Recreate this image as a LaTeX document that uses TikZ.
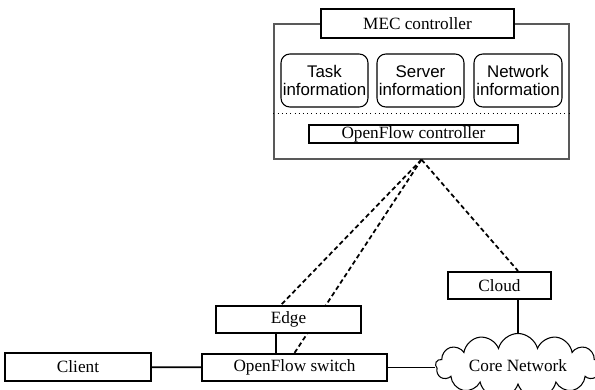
\documentclass[tikz,border=0pt]{standalone}
\usepackage{fontspec}
\setmainfont{Liberation Serif}
\newfontfamily\infofont{Liberation Sans}
\usetikzlibrary{positioning,calc,shapes.symbols}

\tikzset{
  box/.style={draw, line width=1.2pt, fill=white, inner sep=0pt,
    font=\fontsize{9.8}{11}\selectfont},
  infobox/.style={draw, rounded corners=5pt, line width=0.6pt,
    minimum width=1.74cm, minimum height=1.06cm, inner sep=0.5pt, align=center,
    font=\infofont\fontsize{9.6}{10.4}\selectfont},
  link/.style={line width=1pt, dash pattern=on 2.6pt off 1.7pt},
  wire/.style={line width=1pt},
}

\begin{document}
\begin{tikzpicture}[x=0.02cm, y=-0.02cm]
\useasboundingbox (0,0) rectangle (595,389);

% MEC controller
\node [draw, black!65, line width=0.7pt, minimum width=5.9cm, minimum height=2.7cm] (outer) at (421.5,91.5) {};
\node [box, minimum width=3.86cm, minimum height=0.58cm] (mec) at (417.5,23.5) {MEC controller};
\node [infobox] (task) at (324.5,80.5) {Task\\information};
\node [infobox] (server) at (420.5,80.5) {Server\\information};
\node [infobox, minimum width=1.76cm] (network) at (518,80.5) {Network\\information};
\draw [dotted] (outer.west |- 0,113) -- (outer.east |- 0,113);
\node [box, minimum width=4.18cm, minimum height=0.36cm] (ofc) at (413.5,134) {OpenFlow controller};

% network side
\node [box, minimum width=2.92cm, minimum height=0.56cm] (client) at (78,367) {Client};
\node [box, minimum width=3.7cm, minimum height=0.54cm] (sw) at (294.5,367.5) {OpenFlow switch};
\draw [link] (outer.south) -- (sw.north);
\node [box, minimum width=2.9cm, minimum height=0.54cm] (edge) at (288.5,319.5) {Edge};
\draw [link] (outer.south) -- ([xshift=-0.15cm]edge.north);
\node [box, minimum width=2.06cm, minimum height=0.54cm] (cloudbox) at (499.5,285.5) {Cloud};
\node [cloud, draw, line width=0.6pt, cloud puffs=13, aspect=3.4, minimum width=3.3cm, minimum height=0.98cm,
  inner sep=0pt, font=\fontsize{9.8}{11}\selectfont] (core) at (518,366) {Core Network};
\draw [link] (outer.south) -- (core.north |- cloudbox.north);

% links
\draw [wire] (client) -- (sw);
\draw [wire] (sw.east) -- (sw.east -| core.west);
\draw [wire] ([xshift=-0.25cm]edge.south) -- ([xshift=-0.25cm]edge.south |- sw.north);
\draw [wire] (cloudbox.south -| core.north) -- (core.north);
\end{tikzpicture}
\end{document}
